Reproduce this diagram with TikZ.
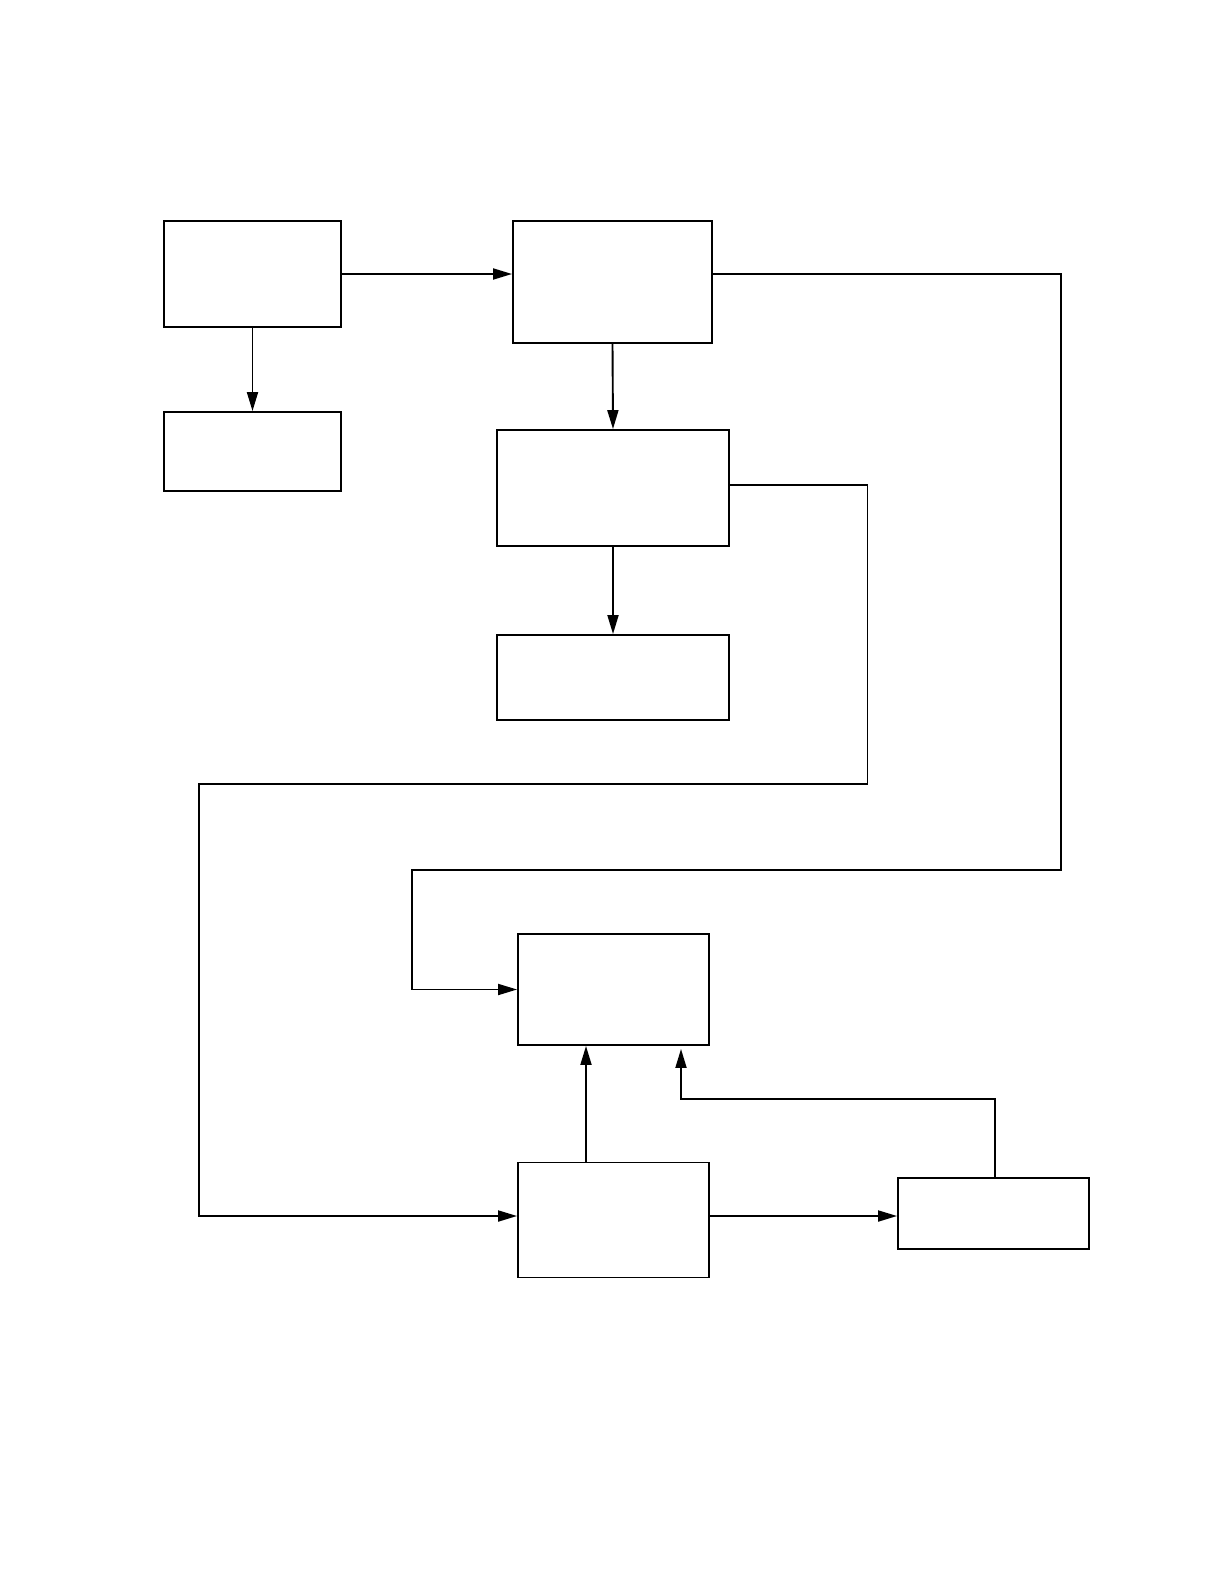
\documentclass[tikz,border=0pt]{standalone}
\usetikzlibrary{arrows.meta}
\begin{document}
\begin{tikzpicture}[x=0.5pt,y=-0.5pt,
  box/.style={draw,line width=0.95pt,inner sep=0pt,rectangle},
  conn/.style={line width=0.95pt},
  arr/.style={conn,-{Triangle[length=9.5pt,width=5.5pt]}}]
\useasboundingbox (0,0) rectangle (1224,1584);
\node[box,minimum width=88.5pt,minimum height=53pt] (A) at (252.5,274) {};
\node[box,minimum width=88.5pt,minimum height=39.5pt] (B) at (252.5,451.5) {};
\node[box,minimum width=99.5pt,minimum height=61pt] (C) at (612.5,282) {};
\node[box,minimum width=116pt,minimum height=58pt] (D) at (613,488) {};
\node[box,minimum width=116pt,minimum height=42.5pt] (E) at (613,677.5) {};
\node[box,minimum width=95.5pt,minimum height=55.5pt] (F) at (613.5,989.5) {};
\node[box,minimum width=95.5pt,minimum height=57.5pt] (G) at (613.5,1220) {};
\node[box,minimum width=95.5pt,minimum height=35.5pt] (H) at (993.5,1213.5) {};
\coordinate (k1) at (1061,870);
\coordinate (k2) at (412,870);
\coordinate (dy) at (0,485);
\coordinate (k3) at (867.5,784);
\coordinate (k4) at (199,784);
\coordinate (gy) at (0,1216);
\coordinate (fx) at (586,0);
\coordinate (h1) at (995,1099);
\coordinate (h2) at (681,1099);
\draw[arr] (A.south) -- (B.north);
\draw[arr] (A.east) -- (A.east -| C.west);
\draw[arr] (C.south) -- (D.north);
\draw[arr] (D.south) -- (E.north);
\draw[arr] (C.east |- A.east) -| (k1) -- (k2) |- (F.west);
\draw[arr] (dy -| D.east) -| (k3) -- (k4) |- (gy -| G.west);
\draw[arr] (gy -| G.east) -- (gy -| H.west);
\draw[arr] (fx |- G.north) -- (fx |- F.south);
\draw[arr,shorten >=1.5pt] (h1 |- H.north) -- (h1) -- (h2) -- (h2 |- F.south);
\end{tikzpicture}
\end{document}
